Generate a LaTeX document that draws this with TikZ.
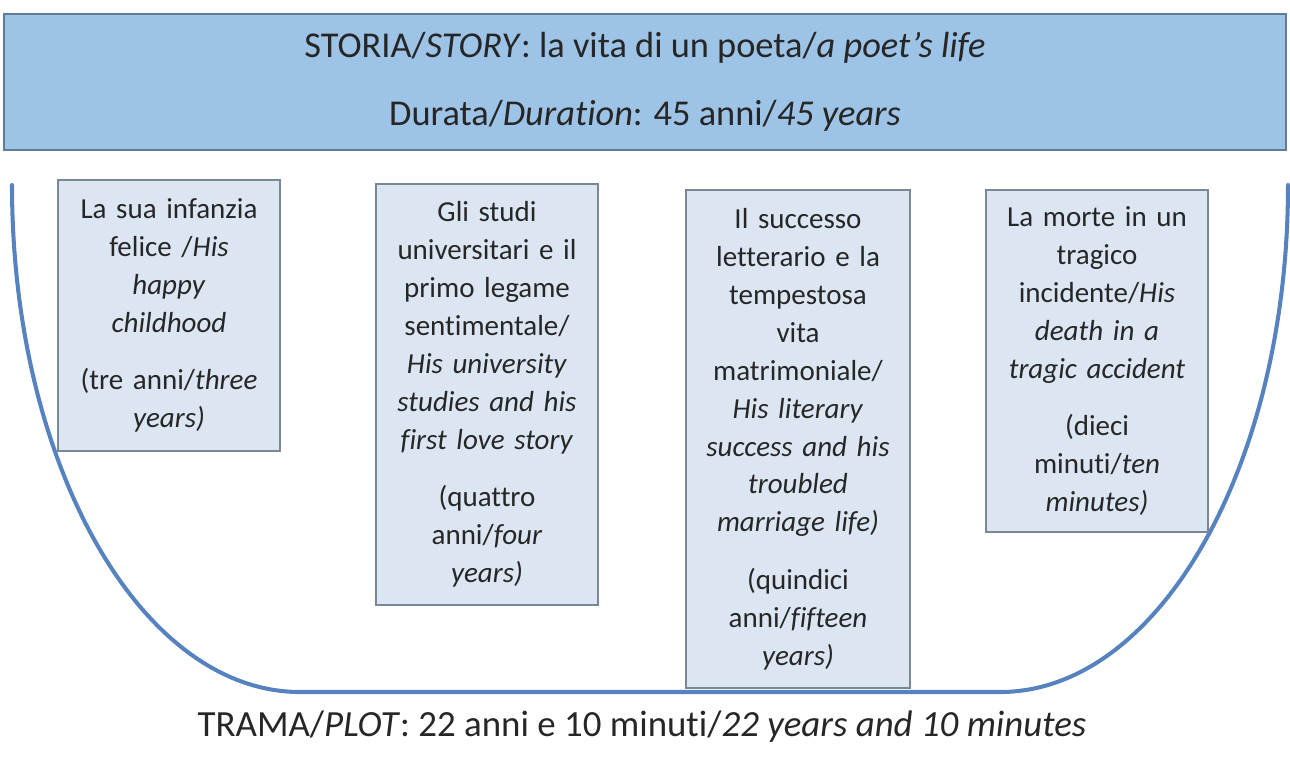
\documentclass[tikz,border=0pt]{standalone}
\usepackage{fontspec}
\setmainfont{Carlito}[Ligatures=NoCommon]
\usepackage{tikz}
\usetikzlibrary{positioning}
\usepackage{xcolor}

\definecolor{bannerfill}{HTML}{9DC3E6}
\definecolor{bannerline}{HTML}{5F7D99}
\definecolor{stagefill}{HTML}{DCE6F2}
\definecolor{stageline}{HTML}{7A8794}
\definecolor{curveblue}{HTML}{5683C0}
\definecolor{inktext}{HTML}{262626}

\begin{document}
\begin{tikzpicture}[x=0.02cm, y=-0.02cm,
  every node/.style={text=inktext},
  banner/.style={draw=bannerline, fill=bannerfill, line width=1pt, inner sep=0pt,
    minimum width=25.64cm, minimum height=2.72cm, align=center,
    font=\fontsize{20.7}{38.7}\selectfont},
  stage/.style={draw=stageline, fill=stagefill, line width=0.8pt, inner sep=0pt,
    align=center, font=\fontsize{16.5}{21.6}\selectfont},
  timeline/.style={draw=curveblue, line width=2.3pt, line cap=round}]

  \useasboundingbox (0,0) rectangle (1290,758);

  % story banner
  \node[banner] (story) at (645,82)
    {STORIA/\textit{STORY}: la vita di un poeta/\textit{a poet’s life}\\
     Durata/\textit{Duration}: 45 anni/\textit{45 years}};

  % plot curve
  \coordinate (uleft) at (12,185);
  \coordinate (ubotl) at (300,692);
  \coordinate (ubotr) at (1000,692);
  \coordinate (uright) at (1288,185);
  \draw[timeline] (uleft) .. controls (12,465) and (141,692) .. (ubotl)
    -- (ubotr) .. controls (1159,692) and (1288,465) .. (uright);

  % stages
  \node[stage, text width=4.44cm, minimum height=5.42cm] (childhood) at (169,315.5)
    {La sua infanzia\\ felice /\textit{His}\\ \textit{happy}\\ \textit{childhood}\\[11pt]
     (tre anni/\textit{three}\\ \textit{years)}};
  \node[stage, text width=4.44cm, minimum height=8.42cm] (university) at (487,394.5)
    {Gli studi\\ universitari e il\\ primo legame\\ sentimentale/\\
     \textit{His university}\\ \textit{studies and his}\\ \textit{first love story}\\[11pt]
     (quattro\\ anni/\textit{four}\\ \textit{years)}};
  \node[stage, text width=4.48cm, minimum height=9.96cm] (success) at (798,439)
    {Il successo\\ letterario e la\\ tempestosa\\ vita\\ matrimoniale/\\
     \textit{His literary}\\ \textit{success and his}\\ \textit{troubled}\\
     \textit{marriage life)}\\[11pt]
     (quindici\\ anni/\textit{fifteen}\\ \textit{years)}};
  \node[stage, text width=4.44cm, minimum height=6.84cm] (death) at (1097,361)
    {La morte in un\\ tragico\\ incidente/\textit{His}\\ \textit{death in a}\\
     \textit{tragic accident}\\[11pt]
     (dieci\\ minuti/\textit{ten}\\ \textit{minutes)}};

  % plot label
  \node[font=\fontsize{21}{24}\selectfont] (plot) at (642,727)
    {TRAMA/\textit{PLOT}: 22 anni e 10 minuti/\textit{22 years and 10 minutes}};
\end{tikzpicture}
\end{document}
